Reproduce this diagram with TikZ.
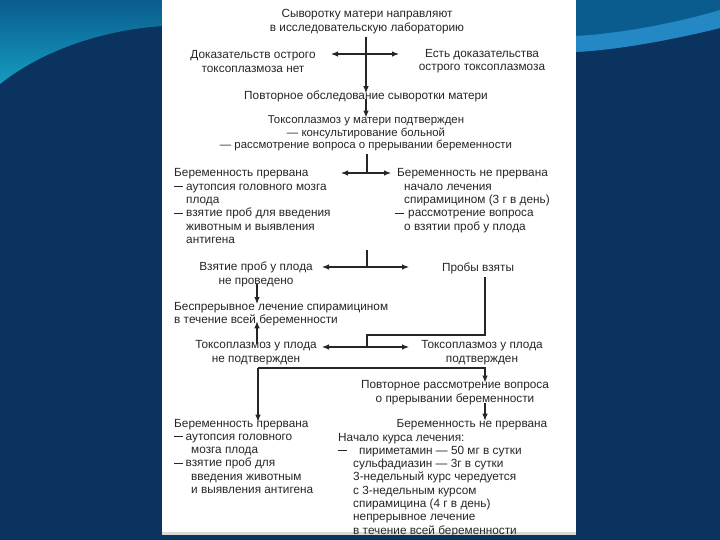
\documentclass[tikz,border=0pt]{standalone}
\usepackage{fontspec}
\setmainfont{Liberation Sans}
\usetikzlibrary{arrows.meta}
\definecolor{navy}{HTML}{0A335F}
\definecolor{wavetop}{HTML}{0A5C8E}
\definecolor{wavebot}{HTML}{159CC0}
\definecolor{band}{HTML}{2388C4}
\newcommand\dline{\rule[3.4pt]{9pt}{0.6pt}}
\newcommand\mydash{\makebox[12pt][l]{\dline}}
\newcommand\myind{\hspace*{12pt}}
\newcommand\mydashR{\makebox[13pt][l]{\dline}}
\newcommand\myindR{\hspace*{9pt}}
\newcommand\mydashB{\makebox[11.5pt][l]{\dline}}
\newcommand\myindB{\hspace*{17pt}}
\newcommand\mydashC{\makebox[21pt][l]{\dline}}
\newcommand\myindC{\hspace*{15pt}}
\tikzset{
  txt/.style={font=\fontsize{11.8}{13.3}\selectfont, text=black!85, inner sep=0pt, align=center},
  blk/.style={txt, align=left, anchor=north west},
  conn/.style={line width=1.1pt, black!85},
  arr/.style={conn, -{Latex[length=7pt,width=5.5pt]}},
  darr/.style={conn, {Latex[length=7pt,width=5.5pt]}-{Latex[length=7pt,width=5.5pt]}}
}
\begin{document}
\begin{tikzpicture}[x=1pt,y=-1pt]
\useasboundingbox (0,0) rectangle (720,540);
% background
\fill[navy] (0,0) rectangle (720,540);
\shade[top color=wavetop, bottom color=wavebot] (0,0) -- (163,0) -- (163,26) .. controls (100,30) and (40,52) .. (0,84) -- cycle;
\fill[wavetop] (575,0) -- (720,0) -- (720,28) .. controls (680,38) and (620,50) .. (575,52) -- cycle;
\fill[band] (575,36) .. controls (620,34) and (680,22) .. (720,10) -- (720,28) .. controls (680,38) and (620,50) .. (575,52) -- cycle;
\fill[white] (162,0) rectangle (576,532);
\fill[black!15] (162,532) rectangle (576,535);

% nodes
\node[txt] (n1) at (367,21.5) {Сыворотку матери направляют\\в исследовательскую лабораторию};
\node[txt] (nL1) at (253,61.5) {Доказательств острого\\токсоплазмоза нет};
\node[txt] (nR1) at (482,61.5) {Есть доказательства\\острого токсоплазмоза};
\node[txt] (n2) at (366,96) {Повторное обследование сыворотки матери};
\node[txt, font=\fontsize{11.4}{12.6}\selectfont] (n3) at (366,133.5) {Токсоплазмоз у матери подтвержден\\— консультирование больной\\— рассмотрение вопроса о прерывании беременности};
\node[blk] (nL2) at (174,168.5) {Беременность прервана\\\mydash аутопсия головного мозга\\\myind плода\\\mydash взятие проб для введения\\\myind животным и выявления\\\myind антигена};
\node[blk] (nR2) at (395,168.5) {\hspace*{2pt}Беременность не прервана\\\myindR начало лечения\\\myindR спирамицином (3 г в день)\\\mydashR рассмотрение вопроса\\\myindR о взятии проб у плода};
\node[txt] (nL3) at (256,274.5) {Взятие проб у плода\\не проведено};
\node[txt] (nR3) at (478,268) {Пробы взяты};
\node[blk] (nL4) at (174,302) {Беспрерывное лечение спирамицином\\в течение всей беременности};
\node[txt] (nL5) at (256,352.7) {Токсоплазмоз у плода\\не подтвержден};
\node[txt] (nR5) at (482,352.7) {Токсоплазмоз у плода\\подтвержден};
\node[txt] (nR6) at (455,392.7) {Повторное рассмотрение вопроса\\о прерывании беременности};
\node[blk] (nL7) at (174,418.7) {Беременность прервана\\\mydashB аутопсия головного\\\myindB мозга плода\\\mydashB взятие проб для\\\myindB введения животным\\\myindB и выявления антигена};
\node[txt] (nR7) at (472,424.2) {Беременность не прервана};
\node[blk] (nR8) at (338,432.7) {Начало курса лечения:\\\mydashC пириметамин — 50 мг в сутки\\\myindC сульфадиазин — 3г в сутки\\\myindC 3-недельный курс чередуется\\\myindC с 3-недельным курсом\\\myindC спирамицина (4 г в день)\\\myindC непрерывное лечение\\\myindC в течение всей беременности};

% junctions and bends
\coordinate (t1) at (366,37);
\coordinate (j1a) at (331,54);
\coordinate (j1b) at (399,54);
\coordinate (t2) at (367,154);
\coordinate (j2) at (367,173);
\coordinate (j2a) at (341,173);
\coordinate (j2b) at (391,173);
\coordinate (t3) at (367,250);
\coordinate (j3) at (367,267);
\coordinate (j3a) at (322,267);
\coordinate (j3b) at (409,267);
\coordinate (r3) at (485,277);
\coordinate (c4) at (367,335);
\coordinate (j4) at (367,347);
\coordinate (j4a) at (322,347);
\coordinate (j4b) at (409,347);
\coordinate (c5) at (258,368);

% connectors
\draw[arr] (t1) -- ([yshift=-3pt]n2.north -| t1);
\draw[darr] (j1a) -- (j1b);
\draw[arr] ([yshift=3pt]n2.south) -- ([yshift=-2pt]n3.north);
\draw[conn] (t2) -- (j2);
\draw[darr] (j2a) -- (j2b);
\draw[conn] (t3) -- (j3);
\draw[darr] (j3a) -- (j3b);
\draw[arr] ([yshift=3pt]nL3.south -| 257,0) -- ([yshift=-2pt]nL4.north -| 257,0);
\draw[conn] (r3) |- (c4) -- (j4);
\draw[darr] (j4a) -- (j4b);
\draw[arr] ([yshift=-3pt]nL5.north -| 257,0) -- ([yshift=5pt]nL4.south -| 257,0);
\draw[arr] (c5) -- ([yshift=-3pt]c5 |- nL7.north);
\draw[arr] (c5) -| ([yshift=-2pt]nR6.north -| r3);
\draw[arr] ([yshift=2pt]nR6.south -| r3) -- ([yshift=-2pt]nR7.north -| r3);
\end{tikzpicture}
\end{document}
